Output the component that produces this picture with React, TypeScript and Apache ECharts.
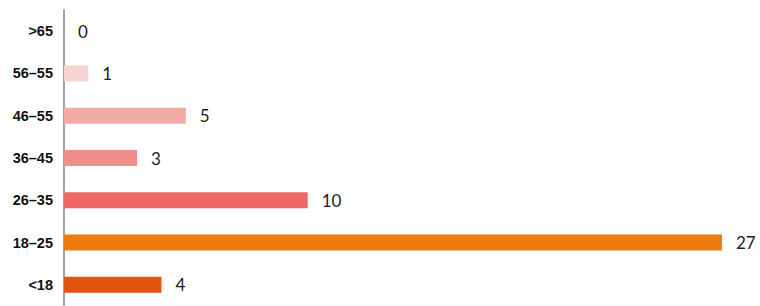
import React, { useEffect, useRef } from "react";
import * as echarts from "echarts";

const categories = [">65", "56–55", "46–55", "36–45", "26–35", "18–25", "<18"];
const values = [0, 1, 5, 3, 10, 27, 4];
const barColors = ["#f9d3d0", "#f9d3d0", "#f4aaa7", "#f08e8c", "#eb6864", "#ef7a0e", "#e4540f"];

export default function App() {
  const ref = useRef<HTMLDivElement>(null);
  useEffect(() => {
    const chart = echarts.init(ref.current!, null, { renderer: "svg" });
    chart.setOption({
      animation: false,
      grid: { left: 64, right: 38, top: 10, bottom: 0, containLabel: false },
      xAxis: {
        type: "value",
        min: 0,
        max: 27,
        show: false,
      },
      yAxis: {
        type: "category",
        data: categories,
        inverse: true,
        axisLine: { show: true, lineStyle: { color: "#a3a3a3", width: 2 } },
        axisTick: { show: false },
        axisLabel: {
          margin: 11,
          color: "#111",
          fontFamily: "Liberation Sans, Arial, sans-serif",
          fontWeight: "bold",
          fontSize: 14.5,
        },
      },
      series: [
        {
          type: "bar",
          barWidth: 16,
          data: values.map((v, i) => ({ value: v, itemStyle: { color: barColors[i] } })),
          label: {
            show: true,
            position: "right",
            distance: 14,
            color: "#222",
            fontFamily: "Lato, Open Sans, sans-serif",
            fontSize: 17,
          },
        },
      ],
    });
    return () => chart.dispose();
  }, []);
  return <div ref={ref} style={{ width: 760, height: 306, position: "absolute", left: 0, top: 0 }} />;
}
